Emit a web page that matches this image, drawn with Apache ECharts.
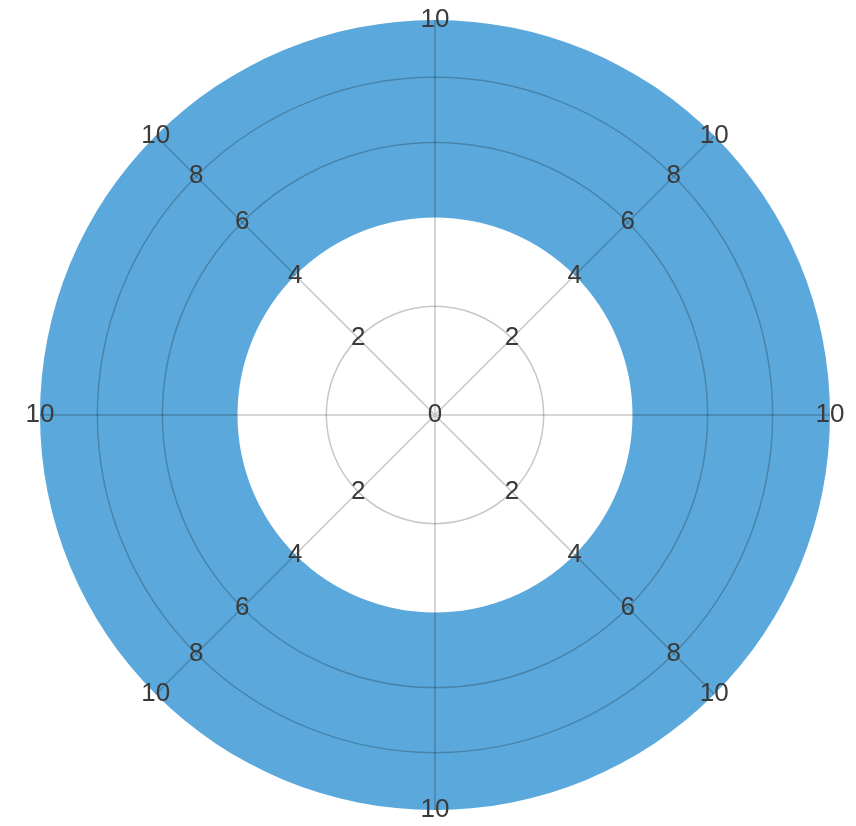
<!DOCTYPE html>
<html>
<head>
<meta charset="utf-8">
<script src="https://cdn.jsdelivr.net/npm/echarts@6/dist/echarts.min.js"></script>
<style>
html,body{margin:0;padding:0;background:#ffffff;}
#chart{width:856px;height:826px;}
</style>
</head>
<body>
<div id="chart"></div>
<script>
// ---- data ----
const tickLabels = [0, 2, 4, 6, 8, 10];      // labels along each diagonal spoke
const edgeLabels = [10];                      // labels on the horizontal / vertical spokes
const circleValues = [2, 6, 8];               // grid circles
const ringInner = [4];                        // blue band start
const ringOuter = [10];                       // blue band end

// ---- radial scale: ECharts log axis over (value + SHIFT) ----
const SHIFT = 8;
const shifted = arr => arr.map(v => v + SHIFT);
const AX_MIN = 0, AX_MAX = 10;

const CENTER = [435, 415];
const RADIUS = 395;
const BLUE = '#5BA9DC';
const GRID = 'rgba(0,0,0,0.22)';
const LABEL = {
  color: '#3a3a3a', fontSize: 26, fontFamily: 'Liberation Sans, Arial, sans-serif',
  margin: 0, align: 'center', verticalAlign: 'middle',
  formatter: v => String(Math.round(v - SHIFT))
};

const diagonalAngles = [135, 45, -45, -135];
const cardinalAngles = [90, 0, -90, 180];

const polar = [], angleAxis = [], radiusAxis = [];

// main polar: ring + grid
polar.push({ center: CENTER, radius: RADIUS });
angleAxis.push({
  polarIndex: 0, type: 'value', min: 0, max: 360, interval: 45, startAngle: 90,
  axisLine: { show: false }, axisTick: { show: false }, axisLabel: { show: false },
  splitLine: { show: true, lineStyle: { color: GRID, width: 1.5 } }, z: 10
});
radiusAxis.push({
  polarIndex: 0, type: 'log', logBase: 10, min: AX_MIN + SHIFT, max: AX_MAX + SHIFT,
  axisLine: { show: false }, axisTick: { show: false, customValues: shifted(circleValues) },
  axisLabel: { show: false },
  splitLine: { show: true, lineStyle: { color: GRID, width: 1.5 } }, z: 10
});

function addLabelPolar(angle, values) {
  const idx = polar.length;
  polar.push({ center: CENTER, radius: RADIUS });
  angleAxis.push({ polarIndex: idx, type: 'value', min: 0, max: 360, startAngle: angle, show: false });
  radiusAxis.push({
    polarIndex: idx, type: 'log', logBase: 10, min: AX_MIN + SHIFT, max: AX_MAX + SHIFT,
    axisLine: { show: false }, axisTick: { show: false }, splitLine: { show: false },
    axisLabel: Object.assign({ customValues: shifted(values) }, LABEL), z: 20
  });
}
diagonalAngles.forEach((a, i) => addLabelPolar(a, i === 0 ? tickLabels : tickLabels.filter(v => v !== 0)));
cardinalAngles.forEach(a => addLabelPolar(a, edgeLabels));

const chart = echarts.init(document.getElementById('chart'), null, { renderer: 'canvas' });
chart.setOption({
  animation: false,
  backgroundColor: '#ffffff',
  polar, angleAxis, radiusAxis,
  series: [{
    type: 'custom',
    coordinateSystem: 'polar',
    polarIndex: 0,
    silent: true,
    z: 1,
    data: ringInner.map((v, i) => [v + SHIFT, ringOuter[i] + SHIFT]),
    renderItem: function (params, api) {
      const cs = params.coordSys;
      const pIn = api.coord([api.value(0), 0]);
      const pOut = api.coord([api.value(1), 0]);
      const r0 = Math.hypot(pIn[0] - cs.cx, pIn[1] - cs.cy);
      const r = Math.hypot(pOut[0] - cs.cx, pOut[1] - cs.cy);
      return {
        type: 'sector',
        shape: { cx: cs.cx, cy: cs.cy, r0: r0, r: r, startAngle: 0, endAngle: Math.PI * 2 },
        style: { fill: BLUE }
      };
    }
  }]
});
</script>
</body>
</html>
